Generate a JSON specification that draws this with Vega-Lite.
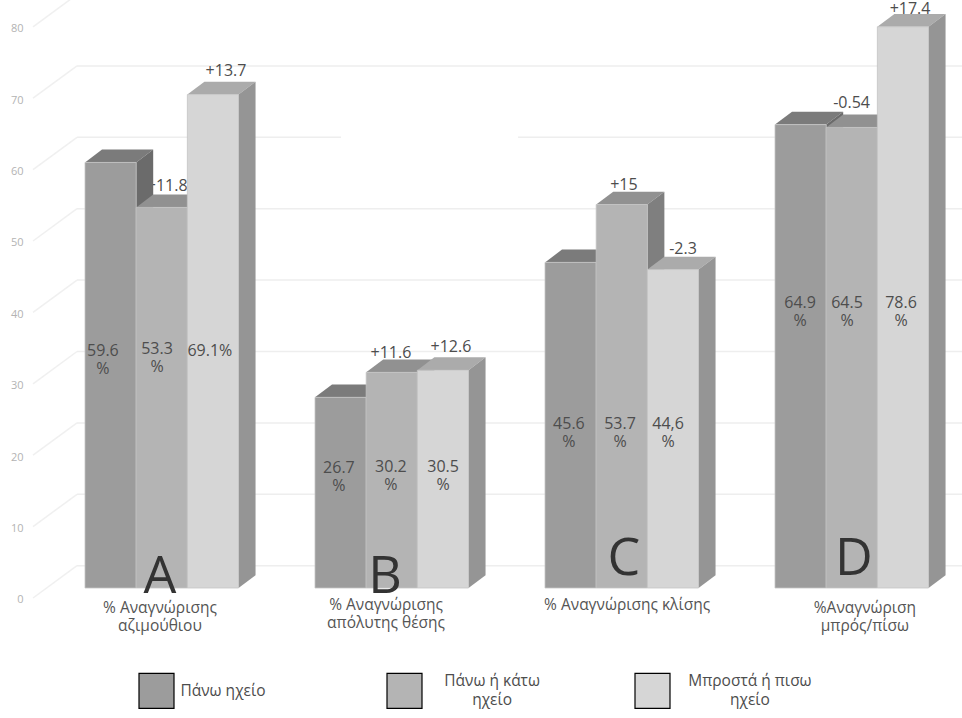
{
"$schema":"https://vega.github.io/schema/vega-lite/v6.json",
"autosize":{"type":"fit","contains":"padding"},
"width":962,"height":718,"padding":0,"background":"white",
"config":{"view":{"stroke":null},"font":"Open Sans"},
"datasets":{
"bars":[
{"group":"A","series":"Πάνω ηχείο","value":59.6,"valueLabel":"59.6\n%","delta":""},
{"group":"A","series":"Πάνω ή κάτω ηχείο","value":53.3,"valueLabel":"53.3\n%","delta":"+11.8"},
{"group":"A","series":"Μπροστά ή πισω ηχείο","value":69.1,"valueLabel":"69.1%","delta":"+13.7"},
{"group":"B","series":"Πάνω ηχείο","value":26.7,"valueLabel":"26.7\n%","delta":""},
{"group":"B","series":"Πάνω ή κάτω ηχείο","value":30.2,"valueLabel":"30.2\n%","delta":"+11.6"},
{"group":"B","series":"Μπροστά ή πισω ηχείο","value":30.5,"valueLabel":"30.5\n%","delta":"+12.6"},
{"group":"C","series":"Πάνω ηχείο","value":45.6,"valueLabel":"45.6\n%","delta":""},
{"group":"C","series":"Πάνω ή κάτω ηχείο","value":53.7,"valueLabel":"53.7\n%","delta":"+15"},
{"group":"C","series":"Μπροστά ή πισω ηχείο","value":44.6,"valueLabel":"44,6\n%","delta":"-2.3"},
{"group":"D","series":"Πάνω ηχείο","value":64.9,"valueLabel":"64.9\n%","delta":""},
{"group":"D","series":"Πάνω ή κάτω ηχείο","value":64.5,"valueLabel":"64.5\n%","delta":"-0.54"},
{"group":"D","series":"Μπροστά ή πισω ηχείο","value":78.6,"valueLabel":"78.6\n%","delta":"+17.4"}
],
"groups":[
{"group":"A","category":"% Αναγνώρισης\nαζιμούθιου"},
{"group":"B","category":"% Αναγνώρισης\nαπόλυτης θέσης"},
{"group":"C","category":"% Αναγνώρισης κλίσης"},
{"group":"D","category":"%Αναγνώριση\nμπρός/πίσω"}
],
"captions":[
{"caption":"Πάνω ηχείο"},
{"caption":"Πάνω ή κάτω\nηχείο"},
{"caption":"Μπροστά ή πισω\nηχείο"}
],
"ticks":[{"tick":0},{"tick":10},{"tick":20},{"tick":30},{"tick":40},{"tick":50},{"tick":60},{"tick":70},{"tick":80}]
},
"layer":[
{"data":{"name":"ticks"},
"transform":[{"calculate":"datum.tick-1.4","as":"y0"},{"calculate":"datum.tick+3.12","as":"y1"}],
"mark":{"type":"rule","color":"#f0f0f0","strokeWidth":1.5,"clip":true},
"encoding":{
"x":{"datum":-0.226,"type":"quantitative","scale":{"domain":[-0.3696,3.813],"nice":false,"zero":false},"axis":null},
"x2":{"datum":-0.0348},
"y":{"field":"y0","type":"quantitative","scale":{"domain":[-18.207,82.35],"nice":false,"zero":false},
"axis":{"values":[0,10,20,30,40,50,60,70,80],"title":null,"domain":false,"ticks":false,"grid":false,"labelPadding":-23,"labelOffset":12,"labelFontSize":11,"labelColor":"#b3b3b3","labelFont":"Open Sans"}},
"y2":{"field":"y1"}}},
{"data":{"name":"ticks"},
"transform":[{"calculate":"datum.tick+3.12","as":"y1"}],
"mark":{"type":"rule","color":"#eeeeee","strokeWidth":1.5,"clip":true},
"encoding":{
"x":{"datum":-0.0348,"type":"quantitative","scale":{"domain":[-0.3696,3.813],"nice":false,"zero":false},"axis":null},
"x2":{"datum":3.813},
"y":{"field":"y1","type":"quantitative","scale":{"domain":[-18.207,82.35],"nice":false,"zero":false}}}},
{"data":{"name":"ticks"},
"transform":[{"filter":"datum.tick==60"},{"calculate":"datum.tick+3.12","as":"y1"}],
"mark":{"type":"rule","color":"white","strokeWidth":4},
"encoding":{
"x":{"datum":1.113,"type":"quantitative","scale":{"domain":[-0.3696,3.813],"nice":false,"zero":false},"axis":null},
"x2":{"datum":1.883},
"y":{"field":"y1","type":"quantitative","scale":{"domain":[-18.207,82.35],"nice":false,"zero":false}}}},
{"data":{"name":"bars"},
"transform":[
{"filter":"datum.delta!=''"},
{"calculate":"indexof(['A','B','C','D'],datum.group)*3+indexof(['Πάνω ηχείο','Πάνω ή κάτω ηχείο','Μπροστά ή πισω ηχείο'],datum.series)","as":"i"},
{"calculate":"[0,0.357,0.613,0,1.330,1.591,0,2.343,2.6,0,3.333,3.587][datum.i]","as":"dx"},
{"calculate":"[0,56.3,72.4,0,32.9,33.75,0,56.45,47.45,0,67.92,81.05][datum.i]","as":"dy"}],
"mark":{"type":"text","fontSize":16,"color":"#4d4d4d","font":"Open Sans"},
"encoding":{
"x":{"field":"dx","type":"quantitative","scale":{"domain":[-0.3696,3.813],"nice":false,"zero":false},"axis":null},
"y":{"field":"dy","type":"quantitative","scale":{"domain":[-18.207,82.35],"nice":false,"zero":false}},
"text":{"field":"delta"}}},
{"data":{"name":"bars"},
"transform":[
{"calculate":"indexof(['A','B','C','D'],datum.group)","as":"gi"},
{"calculate":"indexof(['Πάνω ηχείο','Πάνω ή κάτω ηχείο','Μπροστά ή πισω ηχείο'],datum.series)","as":"si"},
{"calculate":"datum.gi+datum.si*0.2225","as":"xl"},
{"calculate":"datum.xl+0.2225","as":"xr"},
{"calculate":"[0,1]","as":"face"},
{"flatten":["face"]},
{"calculate":"[0,1,2,3]","as":"corner"},
{"flatten":["corner"]},
{"calculate":"datum.face==0?[datum.xl,datum.xr,datum.xr+0.074,datum.xl+0.074][datum.corner]:[datum.xr,datum.xr+0.074,datum.xr+0.074,datum.xr][datum.corner]","as":"px"},
{"calculate":"datum.face==0?[datum.value,datum.value,datum.value+1.8,datum.value+1.8][datum.corner]:[0,1.8,datum.value+1.8,datum.value][datum.corner]","as":"py"},
{"calculate":"'s'+datum.si+'f'+datum.face","as":"shade"},
{"calculate":"datum.group+datum.si+'-'+datum.face","as":"polygon"}],
"mark":{"type":"line","strokeWidth":0,"interpolate":"linear"},
"encoding":{
"x":{"field":"px","type":"quantitative","scale":{"domain":[-0.3696,3.813],"nice":false,"zero":false},"axis":null},
"y":{"field":"py","type":"quantitative","scale":{"domain":[-18.207,82.35],"nice":false,"zero":false}},
"order":{"field":"corner","type":"quantitative"},
"detail":{"field":"polygon"},
"fill":{"field":"shade","type":"nominal","legend":null,"scale":{"name":"faces","domain":["s0f0","s0f1","s1f0","s1f1","s2f0","s2f1"],"range":["#7b7b7b","#6b6b6b","#919191","#7f7f7f","#ababab","#959595"]}}}},
{"data":{"name":"bars"},
"transform":[
{"calculate":"indexof(['A','B','C','D'],datum.group)","as":"gi"},
{"calculate":"indexof(['Πάνω ηχείο','Πάνω ή κάτω ηχείο','Μπροστά ή πισω ηχείο'],datum.series)","as":"si"},
{"calculate":"datum.gi+datum.si*0.2225","as":"xl"},
{"calculate":"datum.xl+0.2225","as":"xr"}],
"mark":{"type":"bar","stroke":"#c4c4c4","strokeWidth":0.8},
"encoding":{
"x":{"field":"xl","type":"quantitative","scale":{"domain":[-0.3696,3.813],"nice":false,"zero":false},"axis":null},
"x2":{"field":"xr"},
"y":{"field":"value","type":"quantitative","stack":null,"scale":{"domain":[-18.207,82.35],"nice":false,"zero":false}},
"y2":{"datum":0},
"fill":{"field":"series","type":"nominal","scale":{"domain":["Πάνω ηχείο","Πάνω ή κάτω ηχείο","Μπροστά ή πισω ηχείο"],"range":["#9c9c9c","#b4b4b4","#d6d6d6"]},
"legend":{"title":null,"orient":"none","legendX":138,"legendY":672,"direction":"horizontal","columns":3,"columnPadding":207,"padding":0,"symbolType":"square","symbolSize":1225,"symbolStrokeColor":"#000000","symbolStrokeWidth":1.2,"symbolOpacity":1,"labelOffset":0,"labelExpr":"''"}}}},
{"data":{"name":"captions"},
"transform":[
{"calculate":"indexof(['Πάνω ηχείο','Πάνω ή κάτω\\nηχείο','Μπροστά ή πισω\\nηχείο'],datum.caption)","as":"ci"},
{"calculate":"[0.6,1.77,2.891][datum.ci]","as":"lx"},
{"calculate":"[-14.43,-13.03,-13.03][datum.ci]","as":"ly"}],
"mark":{"type":"text","fontSize":15.5,"color":"#4d4d4d","font":"Open Sans","lineBreak":"\n","lineHeight":19},
"encoding":{
"x":{"field":"lx","type":"quantitative","scale":{"domain":[-0.3696,3.813],"nice":false,"zero":false},"axis":null},
"y":{"field":"ly","type":"quantitative","scale":{"domain":[-18.207,82.35],"nice":false,"zero":false}},
"text":{"field":"caption"}}},
{"data":{"name":"bars"},
"transform":[
{"calculate":"indexof(['A','B','C','D'],datum.group)*3+indexof(['Πάνω ηχείο','Πάνω ή κάτω ηχείο','Μπροστά ή πισω ηχείο'],datum.series)","as":"i"},
{"calculate":"[0.078,0.313,0.543,1.104,1.330,1.557,2.104,2.326,2.535,3.109,3.313,3.548][datum.i]","as":"lx"},
{"calculate":"[33.2,33.46,33.2,16.81,16.95,16.95,22.96,22.96,22.96,39.92,39.92,39.92][datum.i]","as":"ly"}],
"mark":{"type":"text","fontSize":16,"color":"#4d4d4d","font":"Open Sans","lineBreak":"\n","lineHeight":18},
"encoding":{
"x":{"field":"lx","type":"quantitative","scale":{"domain":[-0.3696,3.813],"nice":false,"zero":false},"axis":null},
"y":{"field":"ly","type":"quantitative","scale":{"domain":[-18.207,82.35],"nice":false,"zero":false}},
"text":{"field":"valueLabel"}}},
{"data":{"name":"groups"},
"transform":[
{"calculate":"indexof(['A','B','C','D'],datum.group)","as":"gi"},
{"calculate":"[0.326,1.304,2.343,3.343][datum.gi]","as":"lx"},
{"calculate":"[1.5,1.5,4.0,4.0][datum.gi]","as":"ly"}],
"mark":{"type":"text","fontSize":52,"color":"#333333","font":"Open Sans"},
"encoding":{
"x":{"field":"lx","type":"quantitative","scale":{"domain":[-0.3696,3.813],"nice":false,"zero":false},"axis":null},
"y":{"field":"ly","type":"quantitative","scale":{"domain":[-18.207,82.35],"nice":false,"zero":false}},
"text":{"field":"group"}}},
{"data":{"name":"groups"},
"transform":[
{"calculate":"indexof(['A','B','C','D'],datum.group)","as":"gi"},
{"calculate":"[0.326,1.309,2.357,3.391][datum.gi]","as":"lx"},
{"calculate":"[-2.76,-2.36,-2.4,-2.76][datum.gi]","as":"ly"}],
"mark":{"type":"text","fontSize":15.5,"color":"#555555","font":"Open Sans","lineBreak":"\n","lineHeight":18},
"encoding":{
"x":{"field":"lx","type":"quantitative","scale":{"domain":[-0.3696,3.813],"nice":false,"zero":false},"axis":null},
"y":{"field":"ly","type":"quantitative","scale":{"domain":[-18.207,82.35],"nice":false,"zero":false}},
"text":{"field":"category"}}}
],
"resolve":{"scale":{"fill":"independent"}}
}
